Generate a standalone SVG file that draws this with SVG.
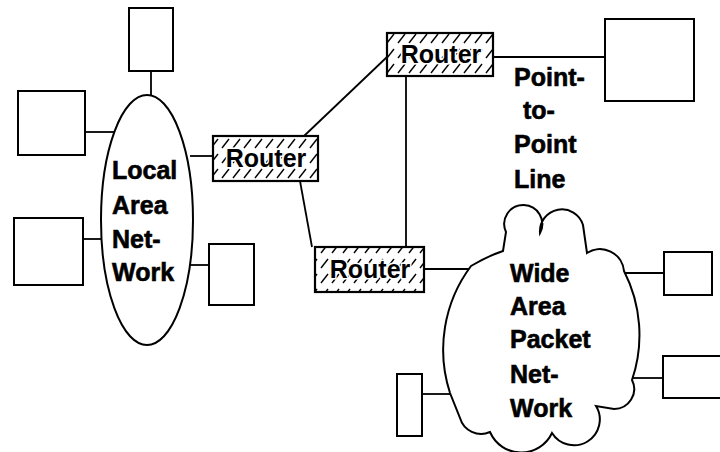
<svg xmlns="http://www.w3.org/2000/svg" width="720" height="452" viewBox="0 0 720 452">
<style>
.box{fill:#fff;stroke:#000;stroke-width:2}
.router{fill:url(#hatch);stroke:#000;stroke-width:2.2}
.shape{fill:#fff;stroke:#000;stroke-width:2}
.lbl{font-family:"Liberation Sans",Arial,sans-serif;font-weight:bold;font-size:25px;fill:#000;stroke:#000;stroke-width:0.6}
.rlbl{font-family:"Liberation Sans",Arial,sans-serif;font-weight:bold;font-size:25px;fill:#000;stroke:#fff;stroke-width:3;paint-order:stroke;text-anchor:middle}
#connectors line,#connectors path{stroke:#000;stroke-width:1.8;fill:none}
</style>
<defs>
<pattern id="hatch" patternUnits="userSpaceOnUse" width="11" height="15">
<rect width="11" height="15" fill="#fff"/>
<line x1="2" y1="13" x2="9" y2="4" stroke="#000" stroke-width="1.4"/>
</pattern>
</defs>
<rect width="720" height="452" fill="#fff"/>
<g id="connectors">
<line x1="151" y1="71" x2="151" y2="96"/>
<line x1="85" y1="132" x2="116" y2="132"/>
<line x1="83" y1="239" x2="102" y2="239"/>
<line x1="188" y1="265" x2="209" y2="265"/>
<line x1="190" y1="156" x2="213" y2="156"/>
<line x1="304" y1="136" x2="387" y2="57"/>
<line x1="493" y1="57" x2="605" y2="57"/>
<line x1="406" y1="76" x2="406" y2="247"/>
<path d="M300 181 Q306 214 312 247"/>
<line x1="424" y1="269" x2="471" y2="269"/>
<line x1="422" y1="394" x2="452" y2="394"/>
<line x1="623" y1="273" x2="664" y2="273"/>
<line x1="632" y1="378" x2="663" y2="378"/>
</g>
<g id="host1"><rect class="box" x="129" y="8" width="44" height="63"/></g>
<g id="host2"><rect class="box" x="18" y="91" width="67" height="64"/></g>
<g id="host3"><rect class="box" x="14" y="218" width="69" height="67"/></g>
<g id="host4"><rect class="box" x="209" y="244" width="45" height="61"/></g>
<g id="host5"><rect class="box" x="605" y="19" width="89" height="82"/></g>
<g id="host6"><rect class="box" x="664" y="252" width="48" height="43"/></g>
<g id="host7"><rect class="box" x="663" y="356" width="62" height="42"/></g>
<g id="host8"><rect class="box" x="397" y="374" width="25" height="62"/></g>
<g id="lan">
<ellipse class="shape" cx="147" cy="220" rx="46" ry="125"/>
<text class="lbl" x="112" y="179">Local</text>
<text class="lbl" x="112" y="214">Area</text>
<text class="lbl" x="112" y="248">Net-</text>
<text class="lbl" x="112" y="281">Work</text>
</g>
<g id="router1">
<rect class="router" x="213" y="136" width="105" height="45"/>
<text class="rlbl" x="266" y="167">Router</text>
</g>
<g id="router2">
<rect class="router" x="387" y="33" width="106" height="43"/>
<text class="rlbl" x="441" y="63">Router</text>
</g>
<g id="router3">
<rect class="router" x="315" y="247" width="109" height="45"/>
<text class="rlbl" x="370" y="278">Router</text>
</g>
<g id="wan">
<path class="shape" d="M471 266 Q488 256 503 251 L506 232 A19 19 0 1 1 540 233 A22 22 0 0 1 583 225 L587 253 A24 24 0 0 1 624 271 A140 140 0 0 1 632 380 A20 20 0 0 1 614 409 L596 406 A24 24 0 0 1 552 433 A34 34 0 0 1 490 432 A22 22 0 0 1 460 418 L450 393 A140 140 0 0 1 471 266 Z"/>
<text class="lbl" x="510" y="282">Wide</text>
<text class="lbl" x="510" y="315">Area</text>
<text class="lbl" x="510" y="348">Packet</text>
<text class="lbl" x="510" y="383">Net-</text>
<text class="lbl" x="510" y="417">Work</text>
</g>
<g id="ptp-label">
<text class="lbl" x="514" y="86">Point-</text>
<text class="lbl" x="523" y="119">to-</text>
<text class="lbl" x="514" y="153">Point</text>
<text class="lbl" x="514" y="188">Line</text>
</g>
</svg>
